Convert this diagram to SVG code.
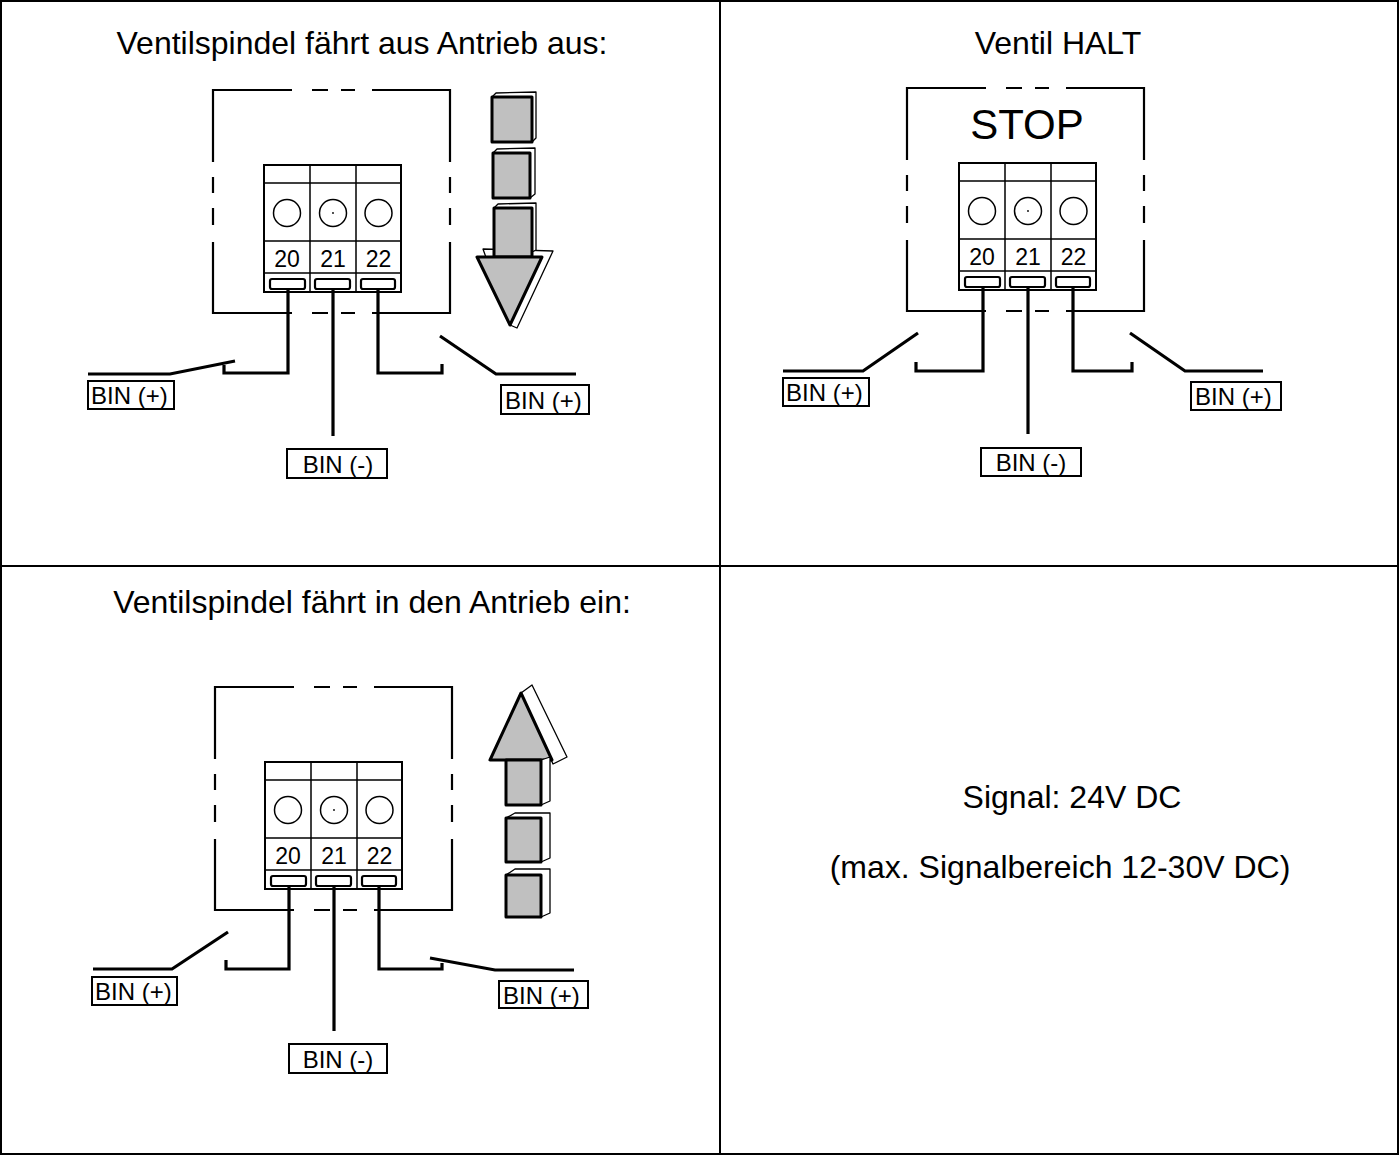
<svg xmlns="http://www.w3.org/2000/svg" xmlns:xlink="http://www.w3.org/1999/xlink" width="1399" height="1155" viewBox="0 0 1399 1155">
<style>
text{font-family:"Liberation Sans",Arial,sans-serif;fill:#000}
.title{font-size:32px;text-anchor:middle}
.sig{font-size:32px;text-anchor:middle}
.num{font-size:23px;text-anchor:middle}
.lbl{font-size:24px}
.lblc{font-size:24px;text-anchor:middle}
.grid{fill:none;stroke:#000;stroke-width:2}
.dash{fill:none;stroke:#000;stroke-width:2.2}
.blk{fill:#fff;stroke:#000;stroke-width:2}
.thin{fill:none;stroke:#000;stroke-width:1.5}
.wire{fill:none;stroke:#000;stroke-width:3.2;stroke-linejoin:miter}
.box{fill:#fff;stroke:#000;stroke-width:2}
.front{fill:#c0c0c0;stroke:#000;stroke-width:3;stroke-linejoin:round}
.back{fill:#fff;stroke:#000;stroke-width:1.3;stroke-linejoin:round}
</style>
<defs>
<g id="tblock">
<rect class="blk" x="0" y="0" width="137" height="127"/>
<path class="thin" d="M0,18H137M0,76H137M0,108H137M46,0V127M92,0V127"/>
<circle class="thin" cx="23" cy="48" r="13.5"/>
<circle class="thin" cx="69" cy="48" r="13.5"/>
<circle class="thin" cx="114.5" cy="48" r="13.5"/>
<circle cx="69" cy="48" r="0.9" fill="#000"/>
<text class="num" x="23" y="102">20</text>
<text class="num" x="69" y="102">21</text>
<text class="num" x="114.5" y="102">22</text>
<rect x="6" y="114" width="35" height="10" rx="2" fill="#fff" stroke="#000" stroke-width="2.2"/>
<rect x="51" y="114" width="35" height="10" rx="2" fill="#fff" stroke="#000" stroke-width="2.2"/>
<rect x="97" y="114" width="34" height="10" rx="2" fill="#fff" stroke="#000" stroke-width="2.2"/>
</g>
<path id="dbox" class="dash" d="M0,72V0H79M99,0H115M128,0H142M159,0H237V72M0,87V103M0,118V135M237,87V103M237,118V135M0,152V223H79M99,223H115M128,223H142M159,223H237V152"/>
</defs>

<g id="table">
<rect class="grid" x="1" y="1" width="1397" height="1153"/>
<path class="grid" d="M720,1V1154M1,566H1398"/>
</g>

<!-- Panel 1: top-left -->
<g id="panel-out">
<text class="title" x="362" y="54">Ventilspindel fährt aus Antrieb aus:</text>
<use xlink:href="#dbox" x="213" y="90"/>
<g id="block-out"><use xlink:href="#tblock" x="264" y="165"/></g>
<g id="arrow-down">
<path class="back" d="M496,93L536,92L536,138L532,142L492,97Z"/>
<rect class="front" x="492" y="97" width="40" height="45"/>
<path class="back" d="M497,149L535,148L535,194L530,198L493,153Z"/>
<rect class="front" x="493" y="153" width="37" height="45"/>
<path class="back" d="M483,249L553,251L517,328L510,325Z"/>
<path class="back" d="M498,204L536,203L536,250L532,252L494,208Z"/>
<rect class="front" x="494" y="208" width="38" height="49"/>
<path class="front" d="M477,257L542,257L510,325Z"/>
</g>
</g>

<!-- Panel 2: top-right -->
<g id="panel-halt">
<text class="title" x="1058" y="54">Ventil HALT</text>
<use xlink:href="#dbox" x="907" y="88"/>
<text x="1027" y="139" style="font-size:42px;text-anchor:middle">STOP</text>
<g id="block-halt"><use xlink:href="#tblock" x="959" y="163"/></g>
</g>

<!-- Panel 3: bottom-left -->
<g id="panel-in">
<text class="title" x="372" y="613">Ventilspindel fährt in den Antrieb ein:</text>
<use xlink:href="#dbox" x="215" y="687"/>
<g id="block-in"><use xlink:href="#tblock" x="265" y="762"/></g>
<g id="arrow-up">
<path class="back" d="M521,693L532,685L567,757L553,764Z"/>
<path class="front" d="M521,693L490,760L552,760Z"/>
<path class="back" d="M541,760L550,757L550,801L541,805Z"/>
<rect class="front" x="506" y="760" width="35" height="45"/>
<path class="back" d="M506,818L515,813L550,813L550,858L541,862L541,818Z"/>
<rect class="front" x="506" y="818" width="35" height="44"/>
<path class="back" d="M506,875L515,869L550,869L550,913L541,917L541,875Z"/>
<rect class="front" x="506" y="875" width="35" height="42"/>
</g>
</g>

<!-- Panel 4: bottom-right -->
<g id="panel-signal">
<text class="sig" x="1072" y="808">Signal: 24V DC</text>
<text class="sig" x="1060" y="878">(max. Signalbereich 12-30V DC)</text>
</g>

<!-- Connectors -->
<g id="wires">
<path class="wire" d="M288,289V373H224V365"/>
<path class="wire" d="M88,374H170L235,361"/>
<path class="wire" d="M378,289V373H442V364"/>
<path class="wire" d="M440,336L496,374H576"/>
<path class="wire" d="M333,289V436"/>

<path class="wire" d="M983,288V371H916V362"/>
<path class="wire" d="M783,371H863L918,333"/>
<path class="wire" d="M1073,288V371H1132V362"/>
<path class="wire" d="M1130,333L1185,371H1263"/>
<path class="wire" d="M1028,288V434"/>

<path class="wire" d="M289,887V969H226V960"/>
<path class="wire" d="M93,969H172L228,932"/>
<path class="wire" d="M379,887V969H442V963"/>
<path class="wire" d="M430,958L495,970H574"/>
<path class="wire" d="M334,887V1031"/>
</g>

<!-- Labels -->
<g id="labels">
<g id="lbl-out-l"><rect class="box" x="88" y="381" width="86" height="28"/><text class="lbl" x="91" y="404">BIN (+)</text></g>
<g id="lbl-out-r"><rect class="box" x="501" y="385" width="88" height="29"/><text class="lbl" x="505" y="409">BIN (+)</text></g>
<g id="lbl-out-m"><rect class="box" x="287" y="449" width="100" height="29"/><text class="lblc" x="338" y="473">BIN (-)</text></g>

<g id="lbl-halt-l"><rect class="box" x="783" y="378" width="86" height="28"/><text class="lbl" x="786" y="401">BIN (+)</text></g>
<g id="lbl-halt-r"><rect class="box" x="1191" y="382" width="90" height="28"/><text class="lbl" x="1195" y="405">BIN (+)</text></g>
<g id="lbl-halt-m"><rect class="box" x="981" y="448" width="100" height="28"/><text class="lblc" x="1031" y="471">BIN (-)</text></g>

<g id="lbl-in-l"><rect class="box" x="92" y="977" width="85" height="28"/><text class="lbl" x="95" y="1000">BIN (+)</text></g>
<g id="lbl-in-r"><rect class="box" x="499" y="981" width="89" height="27"/><text class="lbl" x="503" y="1004">BIN (+)</text></g>
<g id="lbl-in-m"><rect class="box" x="289" y="1044" width="98" height="29"/><text class="lblc" x="338" y="1068">BIN (-)</text></g>
</g>
</svg>
